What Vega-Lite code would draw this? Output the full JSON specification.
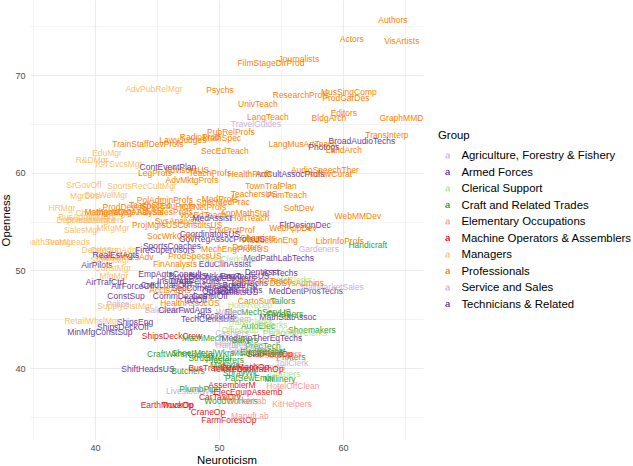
{"$schema":"https://vega.github.io/schema/vega-lite/v6.json","width":393,"height":440,"autosize":{"type":"none"},"padding":{"left":30,"top":0,"right":210,"bottom":26},"background":"white","view":{"stroke":null},"datasets":{"groups":[{"g":"A","Group":"Agriculture, Forestry & Fishery"},{"g":"F","Group":"Armed Forces"},{"g":"C","Group":"Clerical Support"},{"g":"R","Group":"Craft and Related Trades"},{"g":"E","Group":"Elementary Occupations"},{"g":"O","Group":"Machine Operators & Assemblers"},{"g":"M","Group":"Managers"},{"g":"P","Group":"Professionals"},{"g":"S","Group":"Service and Sales"},{"g":"T","Group":"Technicians & Related"}]},"data":{"values":[
{"n":"Authors","x":64.02,"y":75.63,"g":"P"},{"n":"Actors","x":60.71,"y":73.69,"g":"P"},{"n":"VisArtists","x":64.74,"y":73.48,"g":"P"},{"n":"Journalists","x":56.44,"y":71.64,"g":"P"},{"n":"FilmStageDirProd","x":54.19,"y":71.23,"g":"P"},{"n":"AdvPubRelMgr","x":44.76,"y":68.57,"g":"M"},{"n":"Psychs","x":50.08,"y":68.46,"g":"P"},{"n":"ResearchProfs","x":56.6,"y":67.95,"g":"P"},{"n":"MusSingComp","x":60.47,"y":68.26,"g":"P"},{"n":"ProdGarDes","x":60.23,"y":67.64,"g":"P"},{"n":"UnivTeach","x":53.14,"y":67.03,"g":"P"},{"n":"Editors","x":60.07,"y":66.11,"g":"P"},{"n":"LangTeach","x":53.94,"y":65.7,"g":"P"},{"n":"BldgArch","x":58.86,"y":65.6,"g":"P"},{"n":"GraphMMDes","x":65.07,"y":65.6,"g":"P"},{"n":"TravelGuides","x":52.98,"y":64.98,"g":"S"},{"n":"PubRelProfs","x":50.96,"y":64.16,"g":"P"},{"n":"TransInterp","x":63.54,"y":63.86,"g":"P"},{"n":"BroadAudioTechs","x":61.52,"y":63.24,"g":"T"},{"n":"LangMusArtTeach","x":56.76,"y":62.93,"g":"P"},{"n":"Photogs","x":58.46,"y":62.63,"g":"T"},{"n":"LandArch","x":60.07,"y":62.32,"g":"P"},{"n":"SecEdTeach","x":50.48,"y":62.22,"g":"P"},{"n":"TrainStaffDevProfs","x":44.27,"y":62.93,"g":"P"},{"n":"LawyJudges","x":47.09,"y":63.34,"g":"P"},{"n":"RadioProd","x":48.46,"y":63.65,"g":"P"},{"n":"MathSpec","x":50.24,"y":63.55,"g":"P"},{"n":"EduMgr","x":40.97,"y":62.01,"g":"M"},{"n":"R&DMgr","x":39.76,"y":61.3,"g":"M"},{"n":"ICTSvcsMgr","x":41.93,"y":60.89,"g":"M"},{"n":"SrGovOff","x":39.11,"y":58.74,"g":"M"},{"n":"SportsRecCultMgr","x":43.79,"y":58.63,"g":"M"},{"n":"SocWelMgr","x":40.89,"y":57.71,"g":"M"},{"n":"MgrDirs","x":39.19,"y":57.61,"g":"M"},{"n":"HRMgr","x":37.34,"y":56.38,"g":"M"},{"n":"ChildCareMgr","x":40.56,"y":55.87,"g":"M"},{"n":"BusAdminMgrs","x":39.36,"y":55.46,"g":"M"},{"n":"DepHeadsMgrs","x":39.27,"y":55.15,"g":"M"},{"n":"BoardMembers","x":40,"y":55.15,"g":"M"},{"n":"SalesMgr","x":38.95,"y":54.13,"g":"M"},{"n":"MktgMgr","x":41.45,"y":54.33,"g":"M"},{"n":"HealthSvcMgr","x":36.13,"y":52.9,"g":"M"},{"n":"TeamLeads","x":37.82,"y":52.9,"g":"M"},{"n":"DeptMgrs","x":40.4,"y":52.08,"g":"M"},{"n":"DepSupAdm","x":41.61,"y":52.08,"g":"M"},{"n":"HumanResAdv","x":42.42,"y":51.36,"g":"P"},{"n":"RealEstAgts","x":41.69,"y":51.57,"g":"T"},{"n":"StoresMgr","x":41.21,"y":51.06,"g":"M"},{"n":"AirPilots","x":40.16,"y":50.54,"g":"T"},{"n":"ConstMgr","x":41.45,"y":50.24,"g":"M"},{"n":"MfgMgr","x":41.53,"y":49.42,"g":"M"},{"n":"AirTrafCtrl","x":40.81,"y":48.8,"g":"T"},{"n":"AirForceOff","x":43.06,"y":48.39,"g":"F"},{"n":"EmpAgtsConsult","x":46.05,"y":49.62,"g":"T"},{"n":"ConstSup","x":42.5,"y":47.37,"g":"T"},{"n":"Police","x":41.85,"y":46.55,"g":"S"},{"n":"SupplyDistMgr","x":42.42,"y":46.35,"g":"M"},{"n":"ShipsEng","x":43.22,"y":44.71,"g":"T"},{"n":"RetailWhslMgr","x":39.76,"y":44.81,"g":"M"},{"n":"ShipsDeckOff","x":42.26,"y":44.2,"g":"T"},{"n":"MinMfgConstSup","x":40.4,"y":43.68,"g":"T"},{"n":"ShipsDeckCrew","x":46.21,"y":43.27,"g":"O"},{"n":"CraftWkrs","x":45.72,"y":41.43,"g":"R"},{"n":"SheetMetalWkrs","x":48.7,"y":41.53,"g":"R"},{"n":"ShiftHeadsUS","x":44.27,"y":39.89,"g":"T"},{"n":"Butchers","x":47.5,"y":39.69,"g":"R"},{"n":"BusTramDr","x":49.27,"y":40,"g":"O"},{"n":"LivestockWk","x":47.66,"y":37.64,"g":"A"},{"n":"PlumbPipe","x":48.46,"y":37.85,"g":"R"},{"n":"ElecEquipAssemb","x":52.33,"y":37.54,"g":"O"},{"n":"CarTaxiDrv","x":50.08,"y":37.03,"g":"O"},{"n":"WoodWorkers","x":50.96,"y":36.62,"g":"R"},{"n":"EarthMoveOp","x":45.8,"y":36.21,"g":"O"},{"n":"TruckOp","x":46.69,"y":36.21,"g":"O"},{"n":"CraneOp","x":49.11,"y":35.49,"g":"O"},{"n":"FarmForestOp","x":50.8,"y":34.67,"g":"O"},{"n":"ManufLab","x":52.49,"y":35.08,"g":"E"},{"n":"KitHelpers","x":55.88,"y":36.31,"g":"E"},{"n":"ConstrLab","x":52.25,"y":36.62,"g":"E"},{"n":"HotelOffClean","x":55.96,"y":38.15,"g":"E"},{"n":"AssemblerM","x":51.04,"y":38.26,"g":"O"},{"n":"Shoemakers","x":57.49,"y":43.89,"g":"R"},{"n":"PhotocopyClerks","x":56.12,"y":43.58,"g":"C"},{"n":"MachMech","x":48.7,"y":43.07,"g":"R"},{"n":"MedImpTherEqTechs","x":53.46,"y":43.07,"g":"T"},{"n":"MedDentProsTechs","x":57.01,"y":47.88,"g":"T"},{"n":"StallMarketSales","x":59.1,"y":48.29,"g":"S"},{"n":"DBSysAdmins","x":56.28,"y":48.7,"g":"P"},{"n":"InfoClerks","x":55.96,"y":49.01,"g":"C"},{"n":"ICTTechs","x":54.91,"y":49.72,"g":"T"},{"n":"MedPathLabTechs","x":54.83,"y":51.26,"g":"T"},{"n":"Gardeners","x":58.05,"y":52.18,"g":"A"},{"n":"Handicraft","x":62,"y":52.59,"g":"R"},{"n":"LibrInfoProfs","x":59.75,"y":53,"g":"P"},{"n":"ProductionEng","x":54.1,"y":53.1,"g":"P"},{"n":"WebMMDev","x":61.2,"y":55.56,"g":"P"},{"n":"SoftDev","x":56.44,"y":56.38,"g":"P"},{"n":"FlrDesignDec","x":56.93,"y":54.64,"g":"T"},{"n":"WebAppDev","x":55.96,"y":54.33,"g":"P"},{"n":"PrimTeach","x":55.48,"y":57.71,"g":"P"},{"n":"TeachersUS","x":52.82,"y":57.81,"g":"P"},{"n":"TownTrafPlan","x":54.19,"y":58.63,"g":"P"},{"n":"AudioSpeechTher","x":58.54,"y":60.27,"g":"P"},{"n":"ArtCultAssocProfs","x":55.72,"y":59.86,"g":"T"},{"n":"ArchivCurat","x":58.94,"y":59.86,"g":"P"},{"n":"HealthProfs","x":52.49,"y":59.86,"g":"P"},{"n":"TeachProfs","x":49.27,"y":59.96,"g":"P"},{"n":"AdvisorsUS","x":47.42,"y":60.27,"g":"P"},{"n":"ContEventPlan","x":45.88,"y":60.58,"g":"T"},{"n":"LegProfs","x":44.84,"y":59.96,"g":"P"},{"n":"AdvMktgProfs","x":47.82,"y":59.25,"g":"P"},{"n":"PolAdminProfs","x":45.64,"y":57.2,"g":"P"},{"n":"MedProfs","x":50.08,"y":57.3,"g":"P"},{"n":"SpecEduProfs","x":45.88,"y":56.59,"g":"P"},{"n":"ICTNetProfs","x":48.7,"y":56.48,"g":"P"},{"n":"SpecMedPrac","x":50.32,"y":57,"g":"P"},{"n":"ProdDevUS","x":42.42,"y":56.48,"g":"P"},{"n":"TeachSpec","x":44.43,"y":56.69,"g":"P"},{"n":"MathAnalysts","x":41.21,"y":55.97,"g":"P"},{"n":"MgmtOrgAnalysts","x":42.82,"y":55.97,"g":"P"},{"n":"AdvSalesProfs","x":45.64,"y":55.97,"g":"P"},{"n":"SysAnalysts","x":46.69,"y":55.05,"g":"P"},{"n":"ConsultsUS","x":48.46,"y":54.64,"g":"P"},{"n":"VocEdTeach","x":48.7,"y":55.66,"g":"P"},{"n":"MedAssist","x":49.43,"y":55.36,"g":"T"},{"n":"AppMathStat","x":52.09,"y":55.87,"g":"P"},{"n":"HortTeach","x":52.49,"y":55.36,"g":"P"},{"n":"EnvProtProf","x":51.04,"y":54.13,"g":"P"},{"n":"GovRegAssocProfsUS","x":50.24,"y":53.21,"g":"T"},{"n":"CoordinatorsUS","x":49.27,"y":53.72,"g":"T"},{"n":"SocWrkCoun","x":46.21,"y":53.51,"g":"P"},{"n":"SportsCoaches","x":46.21,"y":52.49,"g":"T"},{"n":"MechEngProfsUS","x":51.28,"y":52.18,"g":"P"},{"n":"Doctors","x":52.25,"y":52.39,"g":"P"},{"n":"Chemists","x":53.14,"y":53.31,"g":"P"},{"n":"ProdSpecsUS","x":48.06,"y":51.47,"g":"P"},{"n":"FinAnalysts","x":46.45,"y":50.65,"g":"P"},{"n":"EduClinAssist","x":50.48,"y":50.65,"g":"T"},{"n":"TravelClerksUS","x":50.64,"y":51.16,"g":"C"},{"n":"FireSupervisors","x":45.64,"y":52.08,"g":"T"},{"n":"ProjMgrsUS","x":44.84,"y":54.64,"g":"P"},{"n":"CredLoanOff","x":45.64,"y":48.5,"g":"T"},{"n":"DraftPersons","x":48.06,"y":48.91,"g":"T"},{"n":"FinSalesAgts","x":49.67,"y":48.5,"g":"T"},{"n":"TradeBrokers","x":50.88,"y":49.21,"g":"T"},{"n":"SecCommAgts","x":48.46,"y":48.19,"g":"T"},{"n":"BuildInsp","x":51.69,"y":48.5,"g":"T"},{"n":"LabTechs","x":52.49,"y":48.7,"g":"T"},{"n":"OptTechs","x":50.08,"y":47.88,"g":"T"},{"n":"ChemTechs","x":51.69,"y":47.98,"g":"T"},{"n":"ChildCareTeach","x":53.46,"y":48.91,"g":"P"},{"n":"AcctsAdvis","x":46.05,"y":47.98,"g":"P"},{"n":"SpecialistsUS","x":51.04,"y":47.78,"g":"T"},{"n":"SalesWkrs","x":45.64,"y":45.94,"g":"S"},{"n":"ClearFwdAgts","x":47.25,"y":45.94,"g":"T"},{"n":"HealthAssocUS","x":47.66,"y":46.65,"g":"P"},{"n":"Tailors","x":55.15,"y":46.86,"g":"R"},{"n":"CartoSurv","x":53.06,"y":46.86,"g":"P"},{"n":"MathStatAssoc","x":55.56,"y":45.22,"g":"T"},{"n":"ElecMechServUS","x":53.14,"y":45.73,"g":"R"},{"n":"FoodSers","x":55.31,"y":45.53,"g":"R"},{"n":"TechClerksUS","x":49.11,"y":45.01,"g":"T"},{"n":"ProcTechs","x":49.83,"y":45.32,"g":"T"},{"n":"AutoElec","x":53.14,"y":44.3,"g":"R"},{"n":"OfficeSup","x":51.69,"y":43.89,"g":"C"},{"n":"Cashiers","x":51.04,"y":43.58,"g":"S"},{"n":"LibClerks","x":54.1,"y":44.4,"g":"C"},{"n":"TransClerks","x":52.49,"y":44.71,"g":"C"},{"n":"PrecTech","x":53.54,"y":42.25,"g":"R"},{"n":"Printers","x":55.8,"y":41.12,"g":"R"},{"n":"TollClerk","x":55.88,"y":40.51,"g":"S"},{"n":"FishFarmers","x":53.46,"y":40.1,"g":"A"},{"n":"Millinery","x":54.91,"y":38.87,"g":"R"},{"n":"PatSewEmbr","x":52.49,"y":38.97,"g":"R"},{"n":"Glaziers","x":55.31,"y":39.38,"g":"C"},{"n":"TextileOp","x":50.88,"y":39.89,"g":"O"},{"n":"SewMachOp","x":52.09,"y":40.1,"g":"O"},{"n":"FoodMachOp","x":53.14,"y":39.89,"g":"O"},{"n":"SprayWk","x":51.69,"y":39.48,"g":"R"},{"n":"MoldCast","x":52.49,"y":41.53,"g":"R"},{"n":"Roofers","x":48.46,"y":41.33,"g":"R"},{"n":"StructMetal","x":49.27,"y":41.02,"g":"R"},{"n":"Plasterers","x":50.48,"y":40.82,"g":"R"},{"n":"PrecInst","x":54.1,"y":41.74,"g":"R"},{"n":"Cleaners","x":55.31,"y":41.4,"g":"E"},{"n":"FoodPrep","x":54.75,"y":41.33,"g":"E"},{"n":"StatPlantOp","x":54.1,"y":41.43,"g":"O"},{"n":"Hairdressers","x":51.69,"y":42.35,"g":"S"},{"n":"Firefight","x":50.88,"y":42.56,"g":"S"},{"n":"SecGuards","x":52.49,"y":41.84,"g":"S"},{"n":"PersAssist","x":55.15,"y":43.79,"g":"C"},{"n":"SalesDem","x":51,"y":45,"g":"S"},{"n":"CommDealers","x":46.85,"y":47.37,"g":"T"},{"n":"ComplOff","x":49.27,"y":47.37,"g":"T"},{"n":"TaxOff","x":48.06,"y":46.96,"g":"T"},{"n":"InsurAgts","x":46.45,"y":48.91,"g":"T"},{"n":"BuyersUS","x":47.5,"y":49.42,"g":"T"},{"n":"SocWrkAssoc","x":49.67,"y":49.42,"g":"T"},{"n":"EngTechsUS","x":52.09,"y":49.42,"g":"T"},{"n":"DentAsst","x":53.46,"y":49.83,"g":"T"},{"n":"HotelRecep","x":52.49,"y":46.45,"g":"C"},{"n":"Waiters","x":50.88,"y":45.73,"g":"S"},{"n":"Bakers","x":52.09,"y":42.87,"g":"R"},{"n":"Electricians","x":53.46,"y":41.6,"g":"R"},{"n":"Masons","x":50.48,"y":40.3,"g":"R"}
]},"transform":[{"lookup":"g","from":{"data":{"name":"groups"},"key":"g","fields":["Group"]}}],"mark":{"type":"text","font":"Liberation Sans","fontSize":8.5,"clip":true,"align":"center","baseline":"middle"},"encoding":{"x":{"field":"x","type":"quantitative","title":"Neuroticism","scale":{"domain":[34.76,66.45],"nice":false,"zero":false},"axis":{"values":[35,40,45,50,55,60,65],"labelExpr":"datum.value % 10 == 0 ? datum.label : ''","grid":true,"gridColor":"#ebebeb","gridWidth":{"condition":{"test":"datum.value % 10 == 0","value":1.1},"value":0.55},"domain":false,"ticks":false,"labelFont":"Liberation Sans","labelFontSize":9.1,"labelColor":"#4d4d4d","labelPadding":3,"titleFont":"Liberation Sans","titleFontSize":11.4,"titleFontWeight":"normal","titleColor":"#000000","titlePadding":2}},"y":{"field":"y","type":"quantitative","title":"Openness","scale":{"domain":[32.63,77.68],"nice":false,"zero":false},"axis":{"values":[35,40,45,50,55,60,65,70,75],"labelExpr":"datum.value % 10 == 0 ? datum.label : ''","grid":true,"gridColor":"#ebebeb","gridWidth":{"condition":{"test":"datum.value % 10 == 0","value":1.1},"value":0.55},"domain":false,"ticks":false,"labelFont":"Liberation Sans","labelFontSize":9.1,"labelColor":"#4d4d4d","labelPadding":5,"titleFont":"Liberation Sans","titleFontSize":11.4,"titleFontWeight":"normal","titleColor":"#000000","titlePadding":3}},"text":{"field":"n","type":"nominal"},"color":{"field":"Group","type":"nominal","scale":{"domain":["Agriculture, Forestry & Fishery","Armed Forces","Clerical Support","Craft and Related Trades","Elementary Occupations","Machine Operators & Assemblers","Managers","Professionals","Service and Sales","Technicians & Related"],"range":["#CAB2D6","#6A3D9A","#B2DF8A","#33A02C","#FB9A99","#E31A1C","#FDBF6F","#FF7F00","#CAB2D6","#6A3D9A"]},"legend":{"orient":"none","legendX":408,"legendY":130,"padding":0,"title":"Group","titleFont":"Liberation Sans","titleFontSize":11.4,"titleFontWeight":"normal","titleColor":"#000000","titlePadding":9,"labelFont":"Liberation Sans","labelFontSize":11.4,"labelColor":"#000000","labelOffset":8,"labelLimit":200,"rowPadding":3.5,"symbolSize":25,"symbolOffset":4,"symbolType":"M-0.8,-0.6 L-0.4,-1 L0.4,-1 L0.8,-0.6 L0.8,0.7 L1,1 L0.4,1 L0.3,0.7 L-0.2,1 L-0.6,1 L-1,0.6 L-1,0.2 L-0.6,-0.1 L0.3,-0.3 L0.3,-0.6 L0.1,-0.7 L-0.2,-0.7 L-0.4,-0.4 Z M0.3,0 L-0.4,0.2 L-0.5,0.4 L-0.3,0.7 L-0.1,0.7 L0.3,0.4 Z","symbolStrokeWidth":0}}}}
